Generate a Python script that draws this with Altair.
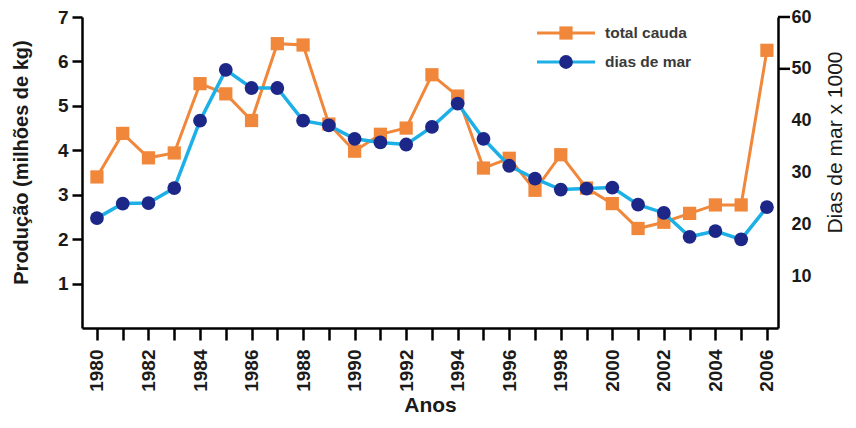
import altair as alt
import pandas as pd

years = list(range(1980, 2007))
total_cauda = [3.4, 4.38, 3.83, 3.94, 5.5, 5.27, 4.67, 6.4, 6.37, 4.59, 3.98, 4.36, 4.5,
               5.7, 5.22, 3.6, 3.82, 3.1, 3.9, 3.15, 2.8, 2.24, 2.38, 2.58, 2.77, 2.77, 6.25]
dias_de_mar = [21.2, 24.0, 24.1, 27.0, 40.0, 49.8, 46.3, 46.3, 40.0, 39.1, 36.5, 35.8, 35.4,
               38.8, 43.3, 36.5, 31.3, 28.8, 26.7, 26.9, 27.1, 23.8, 22.2, 17.6, 18.7, 17.1, 23.3]
left_ticks = [1, 2, 3, 4, 5, 6, 7]
right_labels = [10, 20, 30, 40, 50, 60]
right_tick_marks = [50, 60]
legend_names = ["total cauda", "dias de mar"]

ORANGE = "#F0873A"
CYAN = "#1DB0E6"
NAVY = "#1C2787"
FONT = "Liberation Sans"

df = pd.DataFrame({"year": years, "total": total_cauda, "dias": dias_de_mar})
df_rt = pd.DataFrame({"dias": right_tick_marks})

W, H = 696, 311

x_enc = alt.X(
    "year:Q",
    scale=alt.Scale(domain=[1979.42, 2006.43], nice=False, zero=False),
    axis=alt.Axis(
        values=years, format="d", labelAngle=-90,
        labelExpr="datum.value % 2 == 0 ? datum.label : ''",
        labelFontSize=19, labelPadding=9, tickSize=12,
        title="Anos", titleFontSize=21, titlePadding=3,
    ),
)

y_left = alt.Y(
    "total:Q",
    scale=alt.Scale(domain=[0, 7], nice=False),
    axis=alt.Axis(
        values=left_ticks, orient="left", labelFontSize=19, tickSize=10, labelPadding=4,
        title="Produção (milhões de kg)", titleFontSize=20, titlePadding=26, titleY=145,
    ),
)

y_right = alt.Y(
    "dias:Q",
    scale=alt.Scale(domain=[0, 60], nice=False),
    axis=alt.Axis(
        values=right_labels, orient="right", labelFontSize=18, ticks=False, tickSize=0,
        labelPadding=13,
        title="Dias de mar x 1000", titleFontSize=21, titleFontWeight="normal",
        titleAngle=270, titlePadding=34, titleY=125,
    ),
)

orange_line = alt.Chart(df).mark_line(color=ORANGE, strokeWidth=3).encode(x=x_enc, y=y_left)
orange_pts = alt.Chart(df).mark_point(shape="square", filled=True, color=ORANGE, size=175, opacity=1).encode(x=x_enc, y=y_left)
orange = alt.layer(orange_line, orange_pts)

blue_line = alt.Chart(df).mark_line(color=CYAN, strokeWidth=3.5).encode(x=x_enc, y=y_right)
blue_pts = alt.Chart(df).mark_point(shape="circle", filled=True, color=NAVY, size=190, opacity=1).encode(x=x_enc, y=y_right)
blue_ticks = alt.Chart(df_rt).mark_rule(color="black", strokeWidth=2.5).encode(
    y=y_right, x=alt.value(W), x2=alt.value(W + 12)
)
blue = alt.layer(blue_line, blue_pts, blue_ticks)

leg_y = [16, 45]
legend_layers = []
for name, yy, col in zip(legend_names, leg_y, [ORANGE, CYAN]):
    d = pd.DataFrame({"name": [name]})
    legend_layers.append(
        alt.Chart(d).mark_rule(color=col, strokeWidth=3).encode(
            x=alt.value(455), x2=alt.value(513), y=alt.value(yy))
    )
    if name == "total cauda":
        legend_layers.append(
            alt.Chart(d).mark_point(shape="square", filled=True, color=ORANGE, size=175, opacity=1).encode(
                x=alt.value(484), y=alt.value(yy))
        )
    else:
        legend_layers.append(
            alt.Chart(d).mark_point(shape="circle", filled=True, color=NAVY, size=190, opacity=1).encode(
                x=alt.value(484), y=alt.value(yy))
        )
    legend_layers.append(
        alt.Chart(d).mark_text(align="left", baseline="middle", font=FONT, fontSize=15.5,
                               fontWeight="bold", color="#3a3a3a").encode(
            x=alt.value(523), y=alt.value(yy), text="name:N")
    )
legend = alt.layer(*legend_layers)

chart = (
    alt.layer(orange, blue, legend)
    .resolve_scale(y="independent")
    .properties(
        width=W, height=H,
        autosize=alt.AutoSizeParams(type="none"),
        padding={"left": 74, "top": 9, "right": 70, "bottom": 92},
    )
    .configure_view(stroke=None)
    .configure_axis(
        grid=False, domainColor="black", domainWidth=2.5, tickColor="black", tickWidth=2.5,
        labelFont=FONT, labelFontWeight="bold", labelColor="#1a1a1a",
        titleFont=FONT, titleFontWeight="bold", titleColor="#1a1a1a",
    )
)

chart.save("out.html", embed_options={"renderer": "svg", "actions": False})
